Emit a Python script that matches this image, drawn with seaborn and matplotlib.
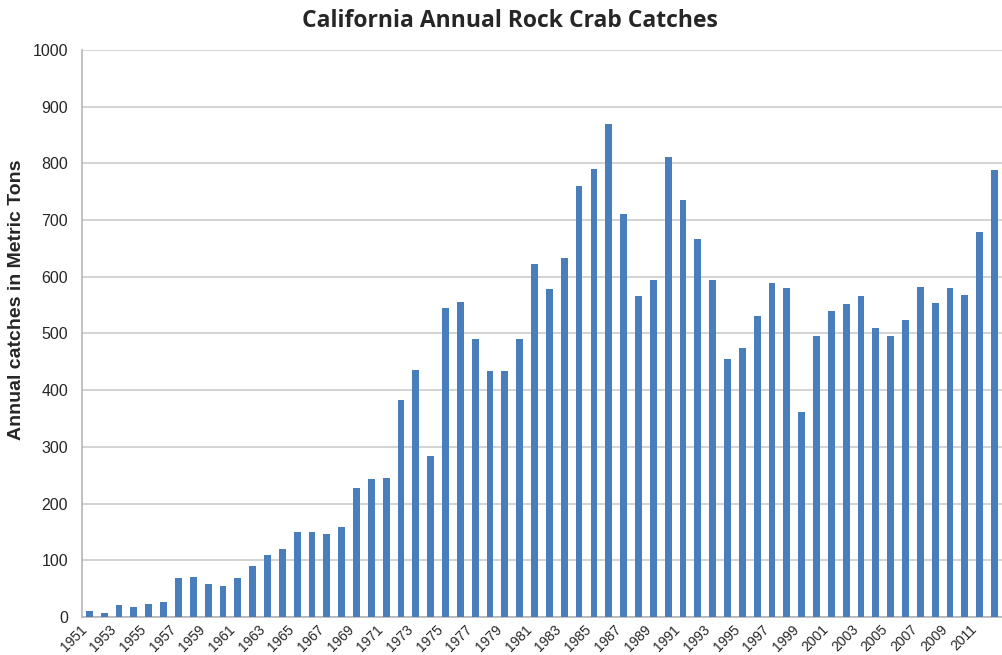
import numpy as np
import pandas as pd
import matplotlib
matplotlib.use("Agg")
import matplotlib.pyplot as plt
import seaborn as sns

years = list(range(1951, 2013))
catches = [
    10, 7, 22, 18, 23, 27, 69, 71, 59, 55,
    69, 90, 109, 120, 149, 149, 147, 158, 227, 244,
    245, 383, 436, 283, 545, 556, 491, 434, 433, 491,
    623, 579, 633, 760, 789, 869, 711, 566, 595, 811,
    736, 666, 594, 454, 475, 531, 588, 580, 362, 495,
    540, 552, 566, 509, 496, 523, 581, 553, 580, 567,
    679, 788,
]
y_ticks = list(range(0, 1001, 100))
labelled_years = [y for y in years if y % 2 == 1]

sns.set_style("white")
plt.rcParams['font.family'] = ['Liberation Sans', 'DejaVu Sans']

df = pd.DataFrame({'Year': [str(y) for y in years], 'Catch': catches})

fig = plt.figure(figsize=(10.02, 6.55), dpi=100)
ax = fig.add_axes([0.0818, 0.058, 0.9182, 0.866])

sns.barplot(data=df, x='Year', y='Catch', color='#4a7ebb', saturation=1,
            width=0.46, linewidth=0, ax=ax, zorder=3)

ax.set_ylim(0, 1000)
ax.set_xlim(-0.47, len(years) - 1 + 0.27)
ax.set_yticks(y_ticks)
ax.set_yticklabels([str(v) for v in y_ticks], fontsize=11.5)
ax.yaxis.grid(True, color='#c8c8c8', linewidth=1.1, zorder=0)
ax.set_axisbelow(True)

pos = [years.index(y) for y in labelled_years]
ax.set_xticks(pos)
ax.set_xticklabels([str(y) for y in labelled_years], rotation=45, ha='right', va='bottom',
                   rotation_mode='anchor', fontsize=10)
ax.tick_params(axis='x', which='major', length=0, pad=11)
ax.set_xticks(np.arange(-0.5, len(years), 1), minor=True)
ax.tick_params(axis='x', which='minor', length=4, color='#a0a0a0', width=1)
ax.tick_params(axis='y', length=5, color='#c8c8c8', width=1.1, pad=5)

for side in ['top', 'right']:
    ax.spines[side].set_visible(False)
for side in ['left', 'bottom']:
    ax.spines[side].set_color('#b0b0b0')
    ax.spines[side].set_linewidth(1.1)

ax.set_xlabel('')
ax.set_ylabel('')
fig.text(17 / 1002, 1 - 300 / 655, 'Annual catches in Metric Tons', rotation=90,
         ha='center', va='center', fontsize=14, fontweight='bold')
fig.text(0.509, 0.968, 'California Annual Rock Crab Catches', ha='center', va='center',
         fontsize=16.5, fontweight='bold', family=['Open Sans', 'DejaVu Sans'])

plt.savefig('out.png', dpi=100)
plt.close()
